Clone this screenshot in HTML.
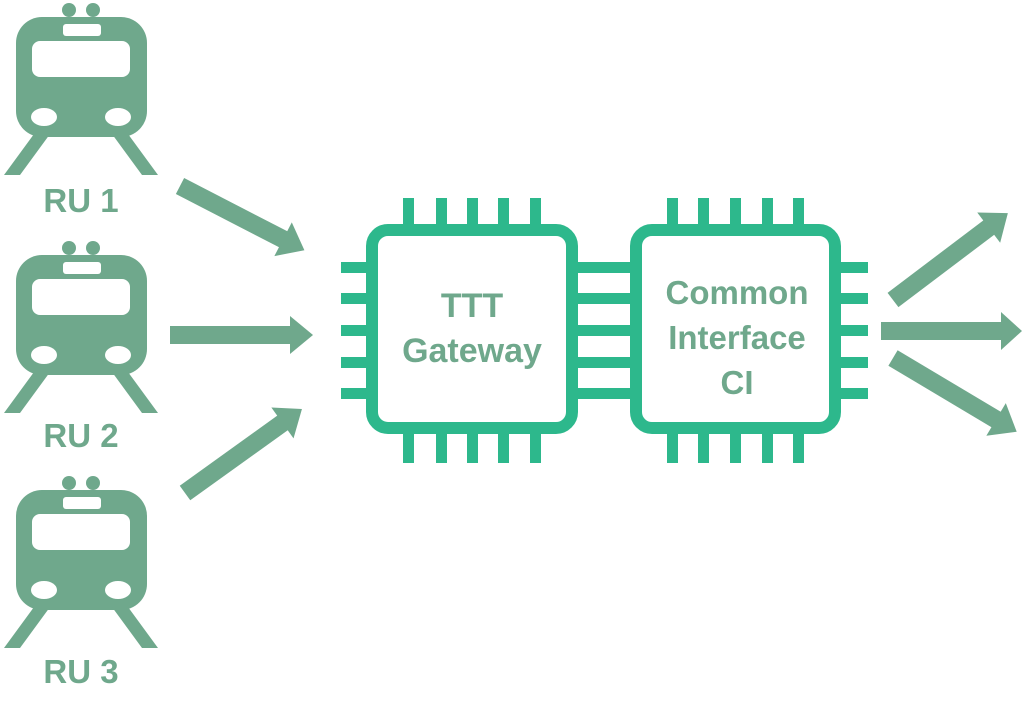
<!DOCTYPE html>
<html><head><meta charset="utf-8"><style>
html,body{margin:0;padding:0;background:#fff;}
svg{display:block;}
text{font-family:"Liberation Sans",Arial,sans-serif;font-weight:bold;fill:#6fa88c;}
</style></head><body>
<svg width="1024" height="715" viewBox="0 0 1024 715">
<defs>
<g id="train">
  <circle cx="69" cy="10" r="7" fill="#6fa88c"/>
  <circle cx="93" cy="10" r="7" fill="#6fa88c"/>
  <rect x="16" y="17" width="131" height="120" rx="26" fill="#6fa88c"/>
  <rect x="63" y="24" width="38" height="12" rx="3" fill="#fff"/>
  <rect x="32" y="41" width="98" height="36" rx="8" fill="#fff"/>
  <ellipse cx="44" cy="117" rx="13" ry="9" fill="#fff"/>
  <ellipse cx="118" cy="117" rx="13" ry="9" fill="#fff"/>
  <polygon points="34,134 50,134 20,175 4,175" fill="#6fa88c"/>
  <polygon points="128,134 112,134 142,175 158,175" fill="#6fa88c"/>
</g>
<g id="arrow">
  <rect x="0" y="-9" width="0" height="18"/>
</g>
</defs>
<use href="#train" x="0" y="0"/>
<use href="#train" x="0" y="238"/>
<use href="#train" x="0" y="473"/>
<text x="81" y="212" font-size="33" text-anchor="middle">RU 1</text>
<text x="81" y="447" font-size="33" text-anchor="middle">RU 2</text>
<text x="81" y="683" font-size="33" text-anchor="middle">RU 3</text>

<g fill="#6fa88c">
  <g transform="translate(180,186) rotate(27.3)"><rect x="0" y="-9" width="120" height="18"/><polygon points="116,-19 140,0 116,19"/></g>
  <g transform="translate(170,335)"><rect x="0" y="-9" width="122" height="18"/><polygon points="120,-19 143,0 120,19"/></g>
  <g transform="translate(185,493) rotate(-35.7)"><rect x="0" y="-9" width="122" height="18"/><polygon points="120,-19 144,0 120,19"/></g>
  <g transform="translate(893,300) rotate(-37.1)"><rect x="0" y="-9" width="122" height="18"/><polygon points="120,-19 144,0 120,19"/></g>
  <g transform="translate(881,331)"><rect x="0" y="-9" width="122" height="18"/><polygon points="120,-19 141,0 120,19"/></g>
  <g transform="translate(893,358) rotate(30.8)"><rect x="0" y="-9" width="122" height="18"/><polygon points="120,-19 144,0 120,19"/></g>
</g>

<g fill="#2db88c">
  <!-- chip1 top/bottom pins -->
  <rect x="403" y="198" width="11" height="30"/><rect x="436" y="198" width="11" height="30"/><rect x="467" y="198" width="11" height="30"/><rect x="498" y="198" width="11" height="30"/><rect x="530" y="198" width="11" height="30"/>
  <rect x="403" y="430" width="11" height="33"/><rect x="436" y="430" width="11" height="33"/><rect x="467" y="430" width="11" height="33"/><rect x="498" y="430" width="11" height="33"/><rect x="530" y="430" width="11" height="33"/>
  <!-- chip2 top/bottom pins -->
  <rect x="667" y="198" width="11" height="30"/><rect x="698" y="198" width="11" height="30"/><rect x="730" y="198" width="11" height="30"/><rect x="762" y="198" width="11" height="30"/><rect x="793" y="198" width="11" height="30"/>
  <rect x="667" y="430" width="11" height="33"/><rect x="698" y="430" width="11" height="33"/><rect x="730" y="430" width="11" height="33"/><rect x="762" y="430" width="11" height="33"/><rect x="793" y="430" width="11" height="33"/>
  <!-- side pins -->
  <rect x="341" y="262" width="30" height="11"/><rect x="341" y="293" width="30" height="11"/><rect x="341" y="325" width="30" height="11"/><rect x="341" y="357" width="30" height="11"/><rect x="341" y="388" width="30" height="11"/>
  <rect x="574" y="262" width="60" height="11"/><rect x="574" y="293" width="60" height="11"/><rect x="574" y="325" width="60" height="11"/><rect x="574" y="357" width="60" height="11"/><rect x="574" y="388" width="60" height="11"/>
  <rect x="836" y="262" width="32" height="11"/><rect x="836" y="293" width="32" height="11"/><rect x="836" y="325" width="32" height="11"/><rect x="836" y="357" width="32" height="11"/><rect x="836" y="388" width="32" height="11"/>
</g>
<rect x="372" y="230" width="200" height="198" rx="16" fill="#fff" stroke="#2db88c" stroke-width="12"/>
<rect x="636" y="230" width="199" height="198" rx="16" fill="#fff" stroke="#2db88c" stroke-width="12"/>

<text x="472" y="317" font-size="34" text-anchor="middle">TTT</text>
<text x="472" y="362" font-size="34" text-anchor="middle">Gateway</text>
<text x="737" y="304" font-size="33" text-anchor="middle">Common</text>
<text x="737" y="349" font-size="33" text-anchor="middle">Interface</text>
<text x="737" y="394" font-size="33" text-anchor="middle">CI</text>
</svg>
</body></html>
